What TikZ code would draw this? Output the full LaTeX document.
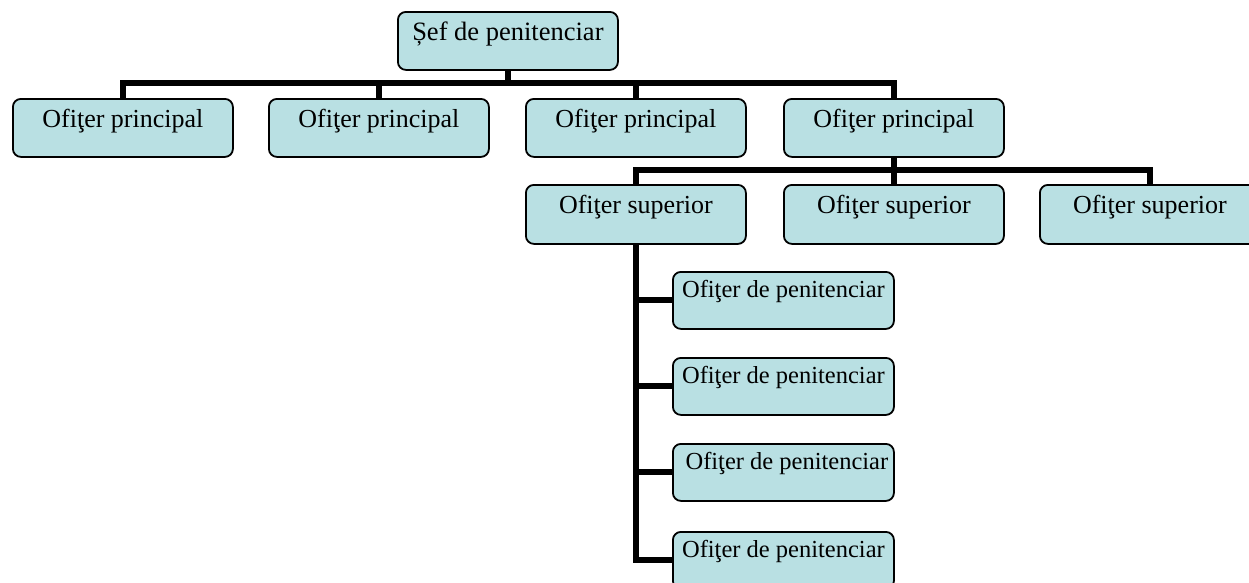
\documentclass[tikz,border=0pt]{standalone}
\usepackage{fontspec}
\setmainfont{Liberation Serif}
\definecolor{boxblue}{RGB}{185,224,227}
\tikzset{
  orgbox/.style={draw, line width=1.8pt, rounded corners=8pt, fill=boxblue,
    minimum width=220pt, inner sep=0pt, text height=29pt, text depth=29pt,
    anchor=north west, font=\fontsize{26}{30}\selectfont},
  penbox/.style={orgbox, minimum width=221pt, text height=26pt, text depth=31pt,
    font=\fontsize{24.5}{28}\selectfont},
  conn/.style={line width=6pt, draw=black, line join=miter}
}
\begin{document}
\begin{tikzpicture}[x=1pt,y=-1pt]
\useasboundingbox (0,0) rectangle (1249,582);
\clip (0,0) rectangle (1249,582);
\node[orgbox, font=\fontsize{26.5}{30}\selectfont] (top) at (397,11) {Șef de penitenciar};
\node[orgbox] (p1) at (12,98) {Ofiţer principal};
\node[orgbox] (p2) at (268,98) {Ofiţer principal};
\node[orgbox] (p3) at (525,98) {Ofiţer principal};
\node[orgbox] (p4) at (783,98) {Ofiţer principal};
\node[orgbox, text depth=30pt] (s1) at (525,184) {Ofiţer superior};
\node[orgbox, text depth=30pt] (s2) at (783,184) {Ofiţer superior};
\node[orgbox, text depth=30pt] (s3) at (1039,184) {Ofiţer superior};
\node[penbox] (q1) at (672,271) {Ofiţer de penitenciar};
\node[penbox] (q2) at (672,357) {Ofiţer de penitenciar};
\node[penbox] (q3) at (672,443) {\hspace*{7pt}Ofiţer de penitenciar};
\node[penbox] (q4) at (672,531) {Ofiţer de penitenciar};
\coordinate (b1) at (0,83);
\coordinate (b2) at (0,170);
\draw[conn] (top.south) -- (top.south |- b1);
\draw[conn] (p1.north) -- (p1.north |- b1) -- (p4.north |- b1) -- (p4.north);
\draw[conn] (p2.north) -- (p2.north |- b1);
\draw[conn] (p3.north) -- (p3.north |- b1);
\draw[conn] (p4.south) -- (p4.south |- b2);
\draw[conn] (s1.north) -- (s1.north |- b2) -- (s3.north |- b2) -- (s3.north);
\draw[conn] (s2.north) -- (s2.north |- b2);
\draw[conn] (s1.south) -- (s1.south |- q4.west) -- (q4.west);
\draw[conn] (s1.south |- q1.west) -- (q1.west);
\draw[conn] (s1.south |- q2.west) -- (q2.west);
\draw[conn] (s1.south |- q3.west) -- (q3.west);
\end{tikzpicture}
\end{document}
